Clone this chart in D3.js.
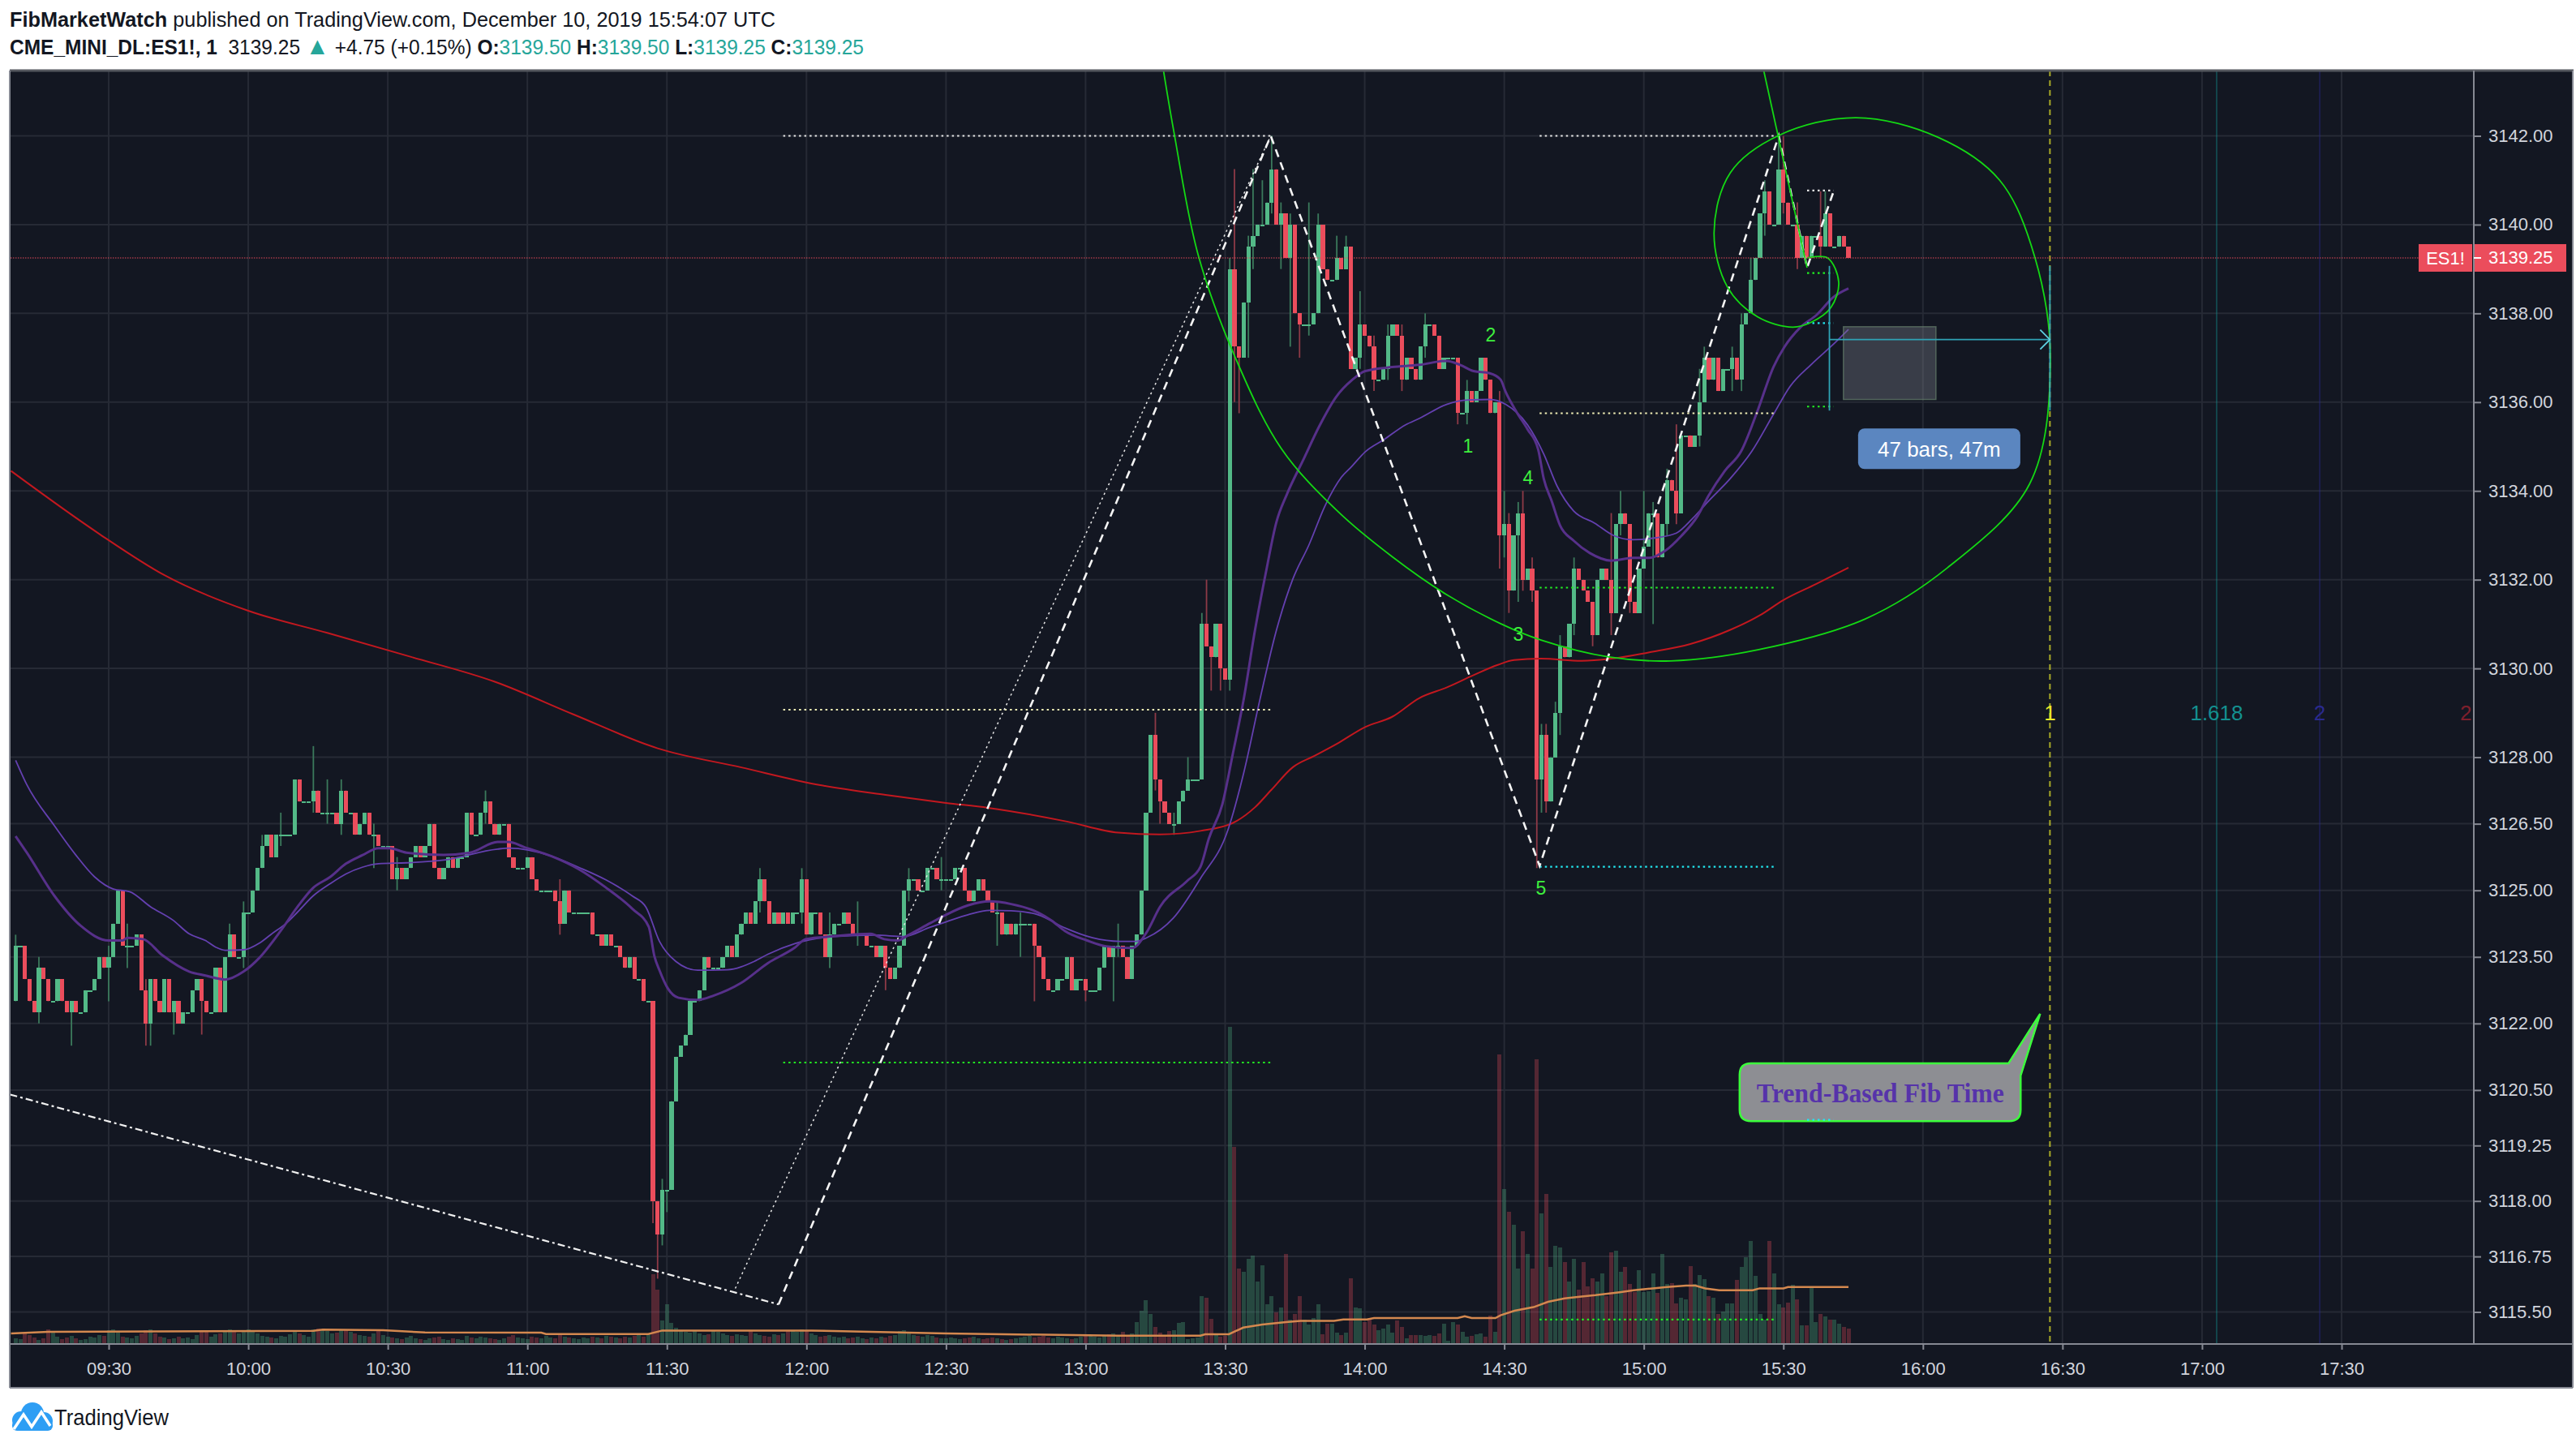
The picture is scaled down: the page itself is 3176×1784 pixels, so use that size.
<!DOCTYPE html>
<html>
<head>
<meta charset="utf-8">
<script src="https://cdn.jsdelivr.net/npm/d3@7"></script>
<style>
  body { margin: 0; background: #fff; }
  svg { display: block; font-family: "Liberation Sans", Arial, sans-serif; }
</style>
</head>
<body>
<svg id="chart" width="3176" height="1784"></svg>
<script>
// ---- data: ES1! 1-minute bars, 10 Dec 2019, first bar at 09:10 ----
const firstOpen = 3122.5;
const closes = [
  3123.75,3123.75,3123,3122.5,3122.25,3123.25,3123,3122.5,3122.5,3123,
  3122.5,3122.25,3122.5,3122.25,3122.25,3122.75,3122.75,3123,3123.5,3123.25,
  3123.5,3124.25,3125,3123.75,3123.75,3123.75,3124,3122.75,3122,3123,
  3122.5,3122.25,3123,3122.25,3122.5,3122,3122.25,3122.25,3122.75,3123,
  3122.5,3122.25,3122.25,3123.25,3122.25,3123.5,3124,3123.5,3123.5,3124.5,
  3124.5,3125,3125.5,3126,3126.25,3125.75,3126.25,3126.25,3126.25,3126.25,
  3127.5,3127,3127,3127,3127.25,3126.75,3126.75,3126.75,3126.75,3126.5,
  3127.25,3126.75,3126.75,3126.25,3126.5,3126.75,3126.25,3126.25,3126,3126,
  3126,3125.25,3125.5,3125.25,3125.5,3125.75,3126,3125.75,3126,3126.5,
  3125.5,3125.25,3125.5,3125.75,3125.5,3125.75,3125.75,3126.75,3126.25,3126.25,
  3126.75,3127,3126.5,3126.25,3126.5,3126.5,3125.75,3125.5,3125.5,3125.5,
  3125.75,3125.25,3125,3125,3125,3125,3124.75,3124.25,3125,3124.5,
  3124.5,3124.5,3124.5,3124.5,3124,3124,3123.75,3124,3123.75,3123.75,
  3123.5,3123.25,3123.5,3123,3123,3122.5,3122.5,3118,3117.25,3118.25,
  3118.25,3120.25,3121.25,3121.5,3121.75,3122.5,3122.5,3122.75,3123.5,3123.25,
  3123.25,3123.25,3123.5,3123.75,3123.5,3124,3124.25,3124.5,3124.25,3124.75,
  3125.25,3124.75,3124.25,3124.5,3124.25,3124.5,3124.25,3124.5,3124.5,3125.25,
  3124,3124.5,3124.5,3124,3123.5,3124,3124.25,3124.25,3124.5,3124.25,
  3124,3124,3124,3123.75,3123.75,3123.5,3123.75,3123.25,3123,3123.25,
  3123.75,3125,3125.25,3125.25,3125,3125,3125.5,3125.5,3125.25,3125.25,
  3125.25,3125.25,3125.5,3125.5,3125,3124.75,3125,3125.25,3125,3124.75,
  3124.5,3124.5,3124,3124.25,3124,3124.25,3124.25,3124.25,3124.25,3123.75,
  3123.5,3123,3122.75,3122.75,3123,3123,3123.5,3122.75,3123,3123,
  3122.75,3122.75,3122.75,3123.25,3123.75,3123.5,3123.75,3123.75,3123.5,3123,
  3123.75,3124,3125,3126.75,3128.5,3127.5,3127,3126.75,3126.5,3126.5,
  3127,3127.25,3127.5,3127.5,3127.5,3131,3130.5,3130.25,3131,3130,
  3129.75,3139,3137.25,3137,3138.25,3139.5,3139.75,3140,3140,3140.5,
  3141.25,3140,3140.25,3139.25,3140,3138,3137.75,3137.75,3137.75,3138,
  3140,3139,3138.75,3138.75,3139.25,3139,3139.5,3136.75,3137,3137.75,
  3137.5,3137.25,3136.5,3136.5,3136.75,3137.5,3137.75,3137.5,3136.5,3137,
  3136.75,3136.5,3137.25,3137.75,3137.75,3137.5,3136.75,3137,3137,3137,
  3135.75,3135.75,3136.25,3136,3136.25,3137,3136.5,3135.75,3136,3133,
  3133.25,3131.75,3133,3133.5,3132,3132.25,3131.75,3127.5,3128.5,3127,
  3128,3129,3130.5,3130.25,3131,3132.25,3132,3131.75,3131.5,3130.75,
  3132,3132.25,3132,3131.25,3133.25,3133.5,3133.25,3131.5,3131.25,3132.25,
  3132.75,3133.5,3133.5,3132.5,3133.25,3134.25,3134,3133.5,3135.25,3135.25,
  3135,3135.25,3136,3137,3136.5,3137,3136.25,3136.75,3136.75,3137,
  3136.5,3137.75,3138,3138.75,3139.25,3140.25,3140.75,3140,3140,3141.25,
  3140.5,3140,3140,3139.25,3139.75,3139.25,3139.75,3139.75,3139.5,3140.25,
  3139.5,3139.5,3139.75,3139.5,3139.25
];
// [bar, high, low] where the wick reaches past the body
const wicks = [
  [0,3124,3122.5],[5,3123.5,3122],[12,3122.5,3121.5],[20,3123.75,3122.5],[24,3124.25,3123.25],
  [28,3123,3121.5],[29,3123,3121.5],[34,3122.5,3121.75],[40,3122.5,3121.75],[46,3124.25,3123.5],
  [49,3124.75,3123.25],[53,3126.25,3125.75],[57,3126.75,3126],[64,3128.25,3126.75],[67,3127.5,3126.5],
  [70,3127.5,3126.25],[77,3126.5,3125.5],[82,3125.75,3125],[101,3127.25,3126.5],[117,3125.25,3124],
  [137,3122.5,3117.5],[138,3118,3116.25],[139,3118.5,3117],[140,3118.25,3117.75],[160,3125.5,3124.5],
  [169,3125.5,3124.25],[175,3124.5,3123.25],[181,3124.75,3123.75],[187,3123.25,3122.75],[192,3125.5,3124.75],
  [199,3125.75,3125],[211,3124.75,3123.75],[216,3124.5,3123.5],[219,3123,3122.5],[230,3123,3122.5],
  [236,3123.75,3122.5],[237,3124.25,3123.5],[245,3129,3127.25],[246,3127.5,3126.5],[249,3126.75,3126.25],
  [252,3128,3127.25],[255,3131.25,3127.5],[256,3132,3130.5],[257,3130.5,3129.5],[259,3131,3129.5],
  [261,3139.25,3129.5],[262,3141.25,3136],[263,3137.25,3135.75],[265,3139.75,3137],[266,3141.25,3139],
  [268,3141,3140],[270,3142,3140.25],[272,3140.5,3139],[274,3140.25,3137.25],[276,3138,3137],
  [278,3140.5,3137.5],[280,3140.25,3138.75],[284,3139.75,3138.75],[286,3139.75,3139],[289,3138.5,3136.75],
  [292,3137.5,3136.25],[295,3137.75,3136.5],[298,3137.75,3136.25],[303,3138,3137],[310,3137,3135.5],
  [312,3136.5,3135.5],[319,3136.25,3132.25],[320,3134,3132.5],[321,3133.5,3131.25],[323,3133.75,3131.5],
  [324,3134,3131.75],[326,3132.5,3131.5],[327,3131.75,3125.5],[328,3128.75,3126.75],[329,3128.75,3126.75],
  [331,3129.25,3128.5],[332,3130.75,3128.5],[335,3132.5,3130.75],[339,3131.5,3130.5],[343,3133.5,3130.75],
  [345,3134,3133],[347,3133.25,3131.25],[350,3134,3132.25],[352,3133.75,3131],[355,3134.5,3133],
  [357,3135.5,3133.25],[362,3136.75,3135],[363,3137.25,3136],[369,3137.25,3136.25],[371,3138,3136.25],
  [373,3139.25,3138],[376,3141,3139.75],[379,3142,3140],[380,3142,3140.25],[383,3140.5,3139],
  [388,3140.75,3139.25],[389,3140.75,3139.5]
];
const volumes = [
  150,125,300,250,175,100,150,425,350,200, 125,175,225,150,100,125,200,175,250,225,
  400,425,350,200,175,150,225,300,400,425, 300,200,175,125,150,200,150,175,125,250,
  400,375,200,275,300,400,425,375,300,400, 425,350,300,225,200,175,150,225,200,275,
  350,300,250,200,425,450,400,375,300,325, 400,425,350,300,250,225,200,300,375,250,
  200,175,150,125,175,225,150,125,100,150, 175,200,125,100,150,125,100,225,175,150,
  200,175,150,125,100,150,200,250,175,150, 125,200,175,150,225,175,150,250,200,175,
  150,125,175,150,200,175,150,225,200,175, 150,200,175,225,250,200,275,2125,1650,700,
  1200,625,475,375,350,325,375,300,250,275, 375,350,300,250,225,275,250,225,375,300,
  250,225,200,275,250,300,375,400,350,425, 400,300,250,200,225,250,200,175,200,150,
  175,200,150,125,175,150,200,175,225,250, 375,400,300,250,225,200,250,225,175,150,
  150,175,150,125,150,175,200,150,125,150, 175,150,125,100,125,150,175,200,225,175,
  200,225,175,150,200,175,150,125,150,200, 225,250,200,175,225,275,300,225,350,225,
  300,650,1000,1325,900,500,325,250,375,400, 625,650,125,150,175,1450,1400,750,250,200,
  225,9750,6050,2300,2200,2600,2700,1900,2400,1200, 1450,950,1100,2750,725,900,1450,725,575,775,
  1200,275,600,600,325,250,325,2000,1100,1075, 650,775,575,400,450,575,325,700,500,150,
  250,250,250,225,250,225,300,600,75,650, 575,350,200,225,275,300,200,850,350,8900,
  4750,4050,3650,2300,3450,2750,2300,8750,4000,4600, 2350,3000,2950,2500,1900,2600,1650,2500,1750,2000,
  1900,2150,1450,2800,2850,2200,2350,1825,1575,2250, 1575,1600,2150,1550,2750,1825,1850,1225,1400,1350,
  2375,1825,2100,1975,1450,1400,900,975,1225,1225, 1950,2350,2650,3150,2075,900,725,3150,2150,1200,
  1100,1250,1800,1350,550,550,1725,650,900,825, 725,725,600,500,450
];
// indicator lines, read as [bar, value]
const volMa = [
  [-1,300],[7,350],[30,360],[64,380],[66,420],[79,400],[88,330],[113,325],[114,280],[136,280],
  [139,390],[171,390],[200,300],[237,230],[254.7,230],[255.7,275],[260.8,275],[263.9,480],[268,575],
  [273.1,650],[276.2,690],[283.4,690],[285.4,730],[290.5,730],[292,775],[310,775],[311.5,830],[313,775],
  [318.1,775],[319.2,860],[322.2,1000],[326.3,1110],[329.4,1275],[333,1380],[336.6,1440],[339.6,1480],
  [344.8,1570],[347.8,1630],[351.9,1690],[355,1730],[359.1,1775],[361.1,1775],[363.2,1690],[366.2,1630],
  [373.4,1630],[374.9,1690],[380,1690],[381,1730],[394,1730]
];
const maSlow = [
  [-1,3134.45],[18,3133.03],[32,3132.1],[50,3131.3],[67,3130.8],[85,3130.26],[103,3129.7],[120,3128.96],
  [138,3128.2],[156,3127.77],[173,3127.37],[187,3127.15],[200,3126.97],[209,3126.86],[226,3126.55],
  [237,3126.3],[246,3126.26],[254.7,3126.34],[261.7,3126.52],[266.4,3126.87],[269.9,3127.26],
  [274.5,3127.77],[279.2,3128.03],[284,3128.3],[290.1,3128.68],[295.9,3128.91],[301.7,3129.33],
  [307.6,3129.57],[313.4,3129.85],[318.6,3130.08],[322.1,3130.19],[327.9,3130.22],[336.6,3130.17],
  [343,3130.22],[351,3130.36],[360,3130.55],[368.6,3130.87],[375,3131.2],[380,3131.54],[387,3131.9],[394,3132.27]
];
const maFast = [
  [0,3126.22],[2.4,3125.85],[8.3,3124.88],[14,3124.2],[20,3123.87],[23,3123.87],[24,3123.93],[27.4,3123.9],
  [31.5,3123.54],[37.3,3123.17],[40.8,3123.08],[45,3122.99],[49,3123.17],[52.4,3123.48],[57,3124.09],
  [60.6,3124.63],[64,3125.06],[67.6,3125.3],[71,3125.6],[74.5,3125.79],[78,3125.95],[80.3,3125.95],
  [84,3125.85],[92,3125.8],[97.7,3125.85],[103.6,3126.09],[106,3126.09],[109.4,3125.97],[115.2,3125.77],
  [121,3125.48],[126.8,3125.07],[132.6,3124.58],[136.1,3124.18],[137.3,3123.52],[138.4,3123.2],
  [140.2,3122.79],[142.5,3122.58],[146.6,3122.53],[150.1,3122.63],[155.9,3122.91],[161.7,3123.36],
  [167.5,3123.71],[169.8,3123.9],[176.2,3123.97],[183.8,3124.02],[186.7,3123.9],[189.6,3123.87],
  [191.9,3123.99],[196.6,3124.26],[200,3124.45],[204.7,3124.66],[209.4,3124.75],[214,3124.69],
  [219.8,3124.5],[222.7,3124.32],[225.6,3124.08],[230.3,3123.87],[234.4,3123.74],[240,3123.7],
  [243.1,3124.05],[246,3124.63],[251.8,3125.21],[254.7,3125.53],[256.5,3126.17],[259.4,3126.94],
  [261.7,3128.1],[264,3129.31],[266.4,3130.85],[268.7,3132.13],[271,3133.29],[273.3,3133.93],
  [276.8,3134.7],[280.3,3135.47],[283.8,3136.11],[287.3,3136.5],[290.1,3136.7],[295.9,3136.79],
  [301.7,3136.84],[307.6,3136.93],[310.5,3136.84],[313.4,3136.7],[316.9,3136.65],[319.2,3136.51],
  [320.3,3136.23],[322.7,3135.77],[325,3135.39],[327.3,3134.93],[328.5,3134.27],[330.2,3133.77],
  [332,3133.22],[334.9,3132.88],[338.4,3132.6],[343,3132.43],[347.7,3132.49],[351.2,3132.49],
  [354.6,3132.65],[358.1,3132.99],[361.6,3133.44],[363.9,3133.89],[367.4,3134.45],[370.9,3134.89],
  [374.4,3135.79],[377.9,3136.8],[380.2,3137.24],[383.7,3137.69],[387.2,3137.97],[390.7,3138.36],[394,3138.56]
];
const maMid = [
  [0,3127.93],[2.4,3127.38],[8.3,3126.46],[12.9,3125.8],[17,3125.3],[21,3125.03],[24.5,3124.97],[29,3124.63],
  [33.8,3124.33],[37.3,3124.02],[40.8,3123.87],[43,3123.72],[45,3123.65],[49,3123.66],[52.4,3123.81],
  [54.8,3124],[58.3,3124.27],[60.6,3124.51],[64,3124.88],[67.6,3125.15],[71,3125.37],[74.5,3125.52],
  [78,3125.6],[84,3125.62],[92,3125.68],[103.6,3125.93],[106,3125.95],[115.2,3125.77],[121,3125.52],
  [126.8,3125.24],[132.6,3124.87],[135.5,3124.62],[138.4,3123.85],[141.9,3123.4],[146.6,3123.2],
  [153,3123.21],[158.8,3123.4],[161.7,3123.56],[167.5,3123.8],[176,3123.96],[185,3123.99],[190.8,3123.96],
  [196.6,3124.17],[200,3124.29],[204.7,3124.45],[209.4,3124.55],[214,3124.54],[219.8,3124.45],
  [225.6,3124.15],[231.5,3123.93],[237.3,3123.85],[240.8,3123.85],[243.1,3123.93],[248.9,3124.38],
  [254.7,3125.27],[260.6,3126.36],[264,3127.65],[267.5,3129.31],[271,3130.85],[274.5,3132],[278,3132.78],
  [281.5,3133.67],[285,3134.31],[287.2,3134.55],[290.1,3134.88],[294.2,3135.16],[298.8,3135.49],
  [301.7,3135.63],[307.6,3135.95],[312.2,3136.05],[316.9,3136.06],[320.3,3135.95],[325,3135.49],
  [328.5,3134.83],[331.4,3134.1],[334.9,3133.55],[339.5,3133.27],[343.6,3132.99],[347.7,3132.9],
  [352.3,3132.94],[357,3133.05],[360.5,3133.38],[363.9,3133.77],[368.6,3134.28],[373.2,3134.89],
  [377.9,3135.73],[381.4,3136.35],[386,3136.85],[390.7,3137.3],[394,3137.64]
];
// drawings, as [bar, price]
const trendLine = [[-1.2,3120.4],[164,3115.67]];
const guideLine = [[154.7,3116.03],[269.8,3142]];
const zigzag = [[164,3115.67],[269.8,3142],[327.6,3125.55],[379,3142],[385.1,3139.03],[390.8,3140.75]];
const fibARange = [165, 269.8];
const fibAPrices = [3142, 3129.07, 3121.12];
const fibBRange = [327.6, 378.6];
const fibBPrices = [3142, 3135.75, 3131.82, 3125.53, 3115.33];
const fibCRange = [385.1, 390.8];
const fibCPrices = [3140.77, 3138.91, 3137.78, 3135.9, 3119.83];
const spiral = [
  [385.1,3139.25],[389.5,3139.25],[391.9,3138.7],[390.2,3138.13],[386,3137.8],[382,3137.69],
  [374.5,3137.92],[368,3138.59],[365.1,3139.82],[368.6,3141.17],[379,3142.01],[395.6,3142.41],
  [413.2,3141.97],[426.5,3141],[434.1,3139.25],[437.4,3136.84],[432.9,3134.15],[415.3,3132.27],
  [397.7,3131.12],[374.5,3130.42],[355.8,3130.17],[342.4,3130.26],[327.9,3130.64],[319.2,3131.01],
  [307.5,3131.67],[296,3132.51],[284.3,3133.53],[272.1,3134.95],[262.2,3137],[254.2,3139.32],
  [248.9,3142.14],[246,3143.96]
];
const spiralRay = [[385.1,3139.03],[375.4,3143.65]];
const waveNames = ["1","2","3","4","5"];
const waveBars = [312.2, 317.1, 323, 325.1, 327.9];
const wavePrices = [3135.02, 3137.52, 3130.78, 3134.3, 3125.05];
const fibTimeStart = 379.3, fibTimeUnit = 58;
const fibTimeLevels = [1, 1.618, 2, 2.618];
const fibTimeLabelPrice = 3129.0;
const measureBars = [389.9, 437.3];
const measurePrices = [3139.07, 3137.41, 3135.81];
const rangeBox = [[392.9, 3137.7], [412.8, 3136.06]];
const measureLabel = {bar: 413.5, price: 3134.95, text: "47 bars, 47m"};
const calloutBox = [[370.6, 3121.1], [431, 3119.8]];
const calloutTip = [435.2, 3122.22];
const calloutText = "Trend-Based Fib Time";
const priceTicks = [3142,3140,3138,3136,3134,3132,3130,3128,3126.5,3125,3123.5,3122,3120.5,3119.25,3118,3116.75,3115.5];
const symbol = "ES1!";

// ---- layout ----
const W = 3176, H = 1784;
const L = 13, T = 87, R = 3050, B = 1657, AX = 1711, RE = 3172;
const up = "#53b987", down = "#eb4d5c";

const t0 = Date.UTC(2019, 11, 10, 9, 10);
const tAt = i => new Date(t0 + i * 60000);
const x = d3.scaleUtc()
  .domain([new Date(Date.UTC(2019, 11, 10, 9, 30)), new Date(Date.UTC(2019, 11, 10, 17, 30))])
  .range([134, 2887]);
const xi = i => x(tAt(i));
const y = d3.scaleLinear().domain([3115.5, 3142]).range([1617.5, 167.5]);
const vy = d3.scaleLinear().domain([0, 10000]).range([1656, 1256]);

const svg = d3.select("#chart");
svg.append("rect").attr("width", W).attr("height", H).attr("fill", "#fff");
svg.append("rect").attr("x", L).attr("y", T).attr("width", RE - L).attr("height", AX - T).attr("fill", "#131722");

svg.append("clipPath").attr("id", "plot")
  .append("rect").attr("x", L).attr("y", T).attr("width", R - L).attr("height", B - T);

// grid
const grid = svg.append("g").attr("stroke", "#262a35").attr("stroke-width", 2);
const timeTicks = x.ticks(d3.utcMinute.every(30));
grid.selectAll("line.v").data(timeTicks).join("line")
  .attr("x1", d => x(d)).attr("x2", d => x(d)).attr("y1", T).attr("y2", B);
grid.selectAll("line.h").data(priceTicks).join("line")
  .attr("x1", L).attr("x2", R).attr("y1", d => y(d)).attr("y2", d => y(d));

const plot = svg.append("g").attr("clip-path", "url(#plot)");

// bars
const wickMap = new Map(wicks.map(w => [w[0], w]));
const bars = closes.map((c, i) => {
  const o = i === 0 ? firstOpen : closes[i - 1];
  const w = wickMap.get(i);
  return {
    i, o, c,
    h: Math.max(o, c, w ? w[1] : -Infinity),
    l: Math.min(o, c, w ? w[2] : Infinity),
    v: volumes[i] || 0
  };
});

// volume
plot.append("g").selectAll("rect").data(bars).join("rect")
  .attr("x", d => xi(d.i) - 2.5).attr("width", 5)
  .attr("y", d => vy(d.v)).attr("height", d => vy(0) - vy(d.v))
  .attr("fill", d => d.c >= d.o ? "rgba(83,185,135,0.3)" : "rgba(235,77,92,0.3)")
  .attr("shape-rendering", "crispEdges");

const lineOf = (yy, curve) => d3.line().x(d => xi(d[0])).y(d => yy(d[1])).curve(curve || d3.curveLinear);

plot.append("path").datum(volMa).attr("d", lineOf(vy))
  .attr("fill", "none").attr("stroke", "#d4884f").attr("stroke-width", 2.5);

// candles
const cg = plot.append("g");
cg.selectAll("line").data(bars).join("line")
  .attr("x1", d => xi(d.i)).attr("x2", d => xi(d.i))
  .attr("y1", d => y(d.h)).attr("y2", d => y(d.l))
  .attr("stroke", d => d.c >= d.o ? "#3b7a5c" : "#8e3a47").attr("stroke-width", 1.8);
cg.selectAll("rect").data(bars).join("rect")
  .attr("x", d => xi(d.i) - 2.6).attr("width", 5.2)
  .attr("y", d => y(Math.max(d.o, d.c)))
  .attr("height", d => Math.max(2, Math.abs(y(d.o) - y(d.c))))
  .attr("fill", d => d.c >= d.o ? up : down)
  .attr("shape-rendering", "crispEdges");

// moving averages
plot.append("path").datum(maSlow).attr("d", lineOf(y, d3.curveMonotoneX))
  .attr("fill", "none").attr("stroke", "#c2181f").attr("stroke-width", 2);
plot.append("path").datum(maMid).attr("d", lineOf(y, d3.curveMonotoneX))
  .attr("fill", "none").attr("stroke", "#6440b0").attr("stroke-width", 1.8);
plot.append("path").datum(maFast).attr("d", lineOf(y, d3.curveMonotoneX))
  .attr("fill", "none").attr("stroke", "#57308a").attr("stroke-width", 3);

// fib level lines
function fibLevels(range, prices, colors) {
  plot.append("g").selectAll("line").data(prices).join("line")
    .attr("x1", xi(range[0])).attr("x2", xi(range[1]))
    .attr("y1", d => y(d)).attr("y2", d => y(d))
    .attr("stroke", (d, k) => colors[k]).attr("stroke-width", 2.2)
    .attr("stroke-dasharray", "2.5,4");
}
fibLevels(fibARange, fibAPrices, ["#e6e6e6", "#f2f0b6", "#22ee22"]);
fibLevels(fibBRange, fibBPrices, ["#e6e6e6", "#f2f0b6", "#22ee22", "#22e6ee", "#22ee22"]);
fibLevels(fibCRange, fibCPrices, ["#e6e6e6", "#22ee22", "#22e6ee", "#22ee22", "#22e6ee"]);

// white dashed drawings
plot.append("path").datum(trendLine).attr("d", lineOf(y))
  .attr("fill", "none").attr("stroke", "#f0f0f0").attr("stroke-width", 2.2)
  .attr("stroke-dasharray", "9,4,3,4");
plot.append("path").datum(guideLine).attr("d", lineOf(y))
  .attr("fill", "none").attr("stroke", "#e8e8e8").attr("stroke-width", 1.5)
  .attr("stroke-dasharray", "2.5,4");
plot.append("path").datum(zigzag).attr("d", lineOf(y))
  .attr("fill", "none").attr("stroke", "#f4f4f4").attr("stroke-width", 2.6)
  .attr("stroke-dasharray", "10,7");

// fib spiral
plot.append("path").datum(spiral).attr("d", lineOf(y, d3.curveCatmullRom))
  .attr("fill", "none").attr("stroke", "#14d814").attr("stroke-width", 1.8);
plot.append("path").datum(spiralRay).attr("d", lineOf(y))
  .attr("fill", "none").attr("stroke", "#14d814").attr("stroke-width", 1.8);

// wave numbers
plot.append("g").selectAll("text").data(waveNames).join("text")
  .attr("x", (d, k) => xi(waveBars[k])).attr("y", (d, k) => y(wavePrices[k]))
  .attr("dy", "0.36em").attr("text-anchor", "middle")
  .attr("font-size", 23).attr("fill", "#3ef03e").text(d => d);

// trend-based fib time
const ftColors = ["#e8e82a", "#139090", "#2a2a8e", "#7e1f2c"];
const ftLines = plot.append("g");
fibTimeLevels.forEach((lv, k) => {
  const bx = xi(fibTimeStart + lv * fibTimeUnit);
  ftLines.append("line").attr("x1", bx).attr("x2", bx).attr("y1", T).attr("y2", B)
    .attr("stroke", ftColors[k]).attr("stroke-opacity", k === 0 ? 0.7 : 0.5)
    .attr("stroke-width", k === 0 ? 2 : 1.5)
    .attr("stroke-dasharray", k === 0 ? "7,5" : null);
  ftLines.append("text").attr("x", bx).attr("y", y(fibTimeLabelPrice)).attr("dy", "0.36em")
    .attr("text-anchor", "middle").attr("font-size", 26).attr("fill", ftColors[k])
    .text(String(lv));
});

// measurement
const mg = plot.append("g").attr("stroke", "#2fa3b5").attr("stroke-width", 1.8).attr("fill", "none");
mg.append("rect")
  .attr("x", xi(rangeBox[0][0])).attr("y", y(rangeBox[0][1]))
  .attr("width", xi(rangeBox[1][0]) - xi(rangeBox[0][0]))
  .attr("height", y(rangeBox[1][1]) - y(rangeBox[0][1]))
  .attr("fill", "rgba(120,123,134,0.38)").attr("stroke", "rgba(110,140,115,0.6)").attr("stroke-width", 1.5);
measureBars.forEach(b => {
  mg.append("line").attr("x1", xi(b)).attr("x2", xi(b))
    .attr("y1", y(measurePrices[0])).attr("y2", y(measurePrices[2]));
});
mg.append("line").attr("x1", xi(measureBars[0])).attr("x2", xi(measureBars[1]))
  .attr("y1", y(measurePrices[1])).attr("y2", y(measurePrices[1]));
const ax = xi(measureBars[1]), ay = y(measurePrices[1]);
mg.append("path").attr("d", `M${ax - 12},${ay - 12}L${ax},${ay}L${ax - 12},${ay + 12}`).attr("stroke", "#5fd0e0");
const lbx = xi(measureLabel.bar), lby = y(measureLabel.price);
plot.append("rect").attr("x", lbx - 100).attr("y", lby - 25).attr("width", 200).attr("height", 50)
  .attr("rx", 8).attr("fill", "#5b86c0");
plot.append("text").attr("x", lbx).attr("y", lby).attr("dy", "0.36em").attr("text-anchor", "middle")
  .attr("font-size", 26).attr("fill", "#fff").text(measureLabel.text);

// callout
{
  const x0 = xi(calloutBox[0][0]), x1 = xi(calloutBox[1][0]);
  const y0 = y(calloutBox[0][1]), y1 = y(calloutBox[1][1]);
  const tx = xi(calloutTip[0]), ty = y(calloutTip[1]);
  const r = 14;
  const p = `M${x0 + r},${y0} L${x1 - 15},${y0} L${tx},${ty} L${x1},${y0 + 15} L${x1},${y1 - r}` +
    ` Q${x1},${y1} ${x1 - r},${y1} L${x0 + r},${y1} Q${x0},${y1} ${x0},${y1 - r}` +
    ` L${x0},${y0 + r} Q${x0},${y0} ${x0 + r},${y0} Z`;
  plot.append("path").attr("d", p).attr("fill", "#8d8e93").attr("stroke", "#3cff3c").attr("stroke-width", 2.5);
  plot.append("text").attr("x", x0 + 21).attr("y", (y0 + y1) / 2 + 12)
    .attr("font-family", "'Liberation Serif', 'Times New Roman', serif").attr("font-weight", "bold")
    .attr("font-size", 33).attr("fill", "#5633aa")
    .attr("textLength", 305).attr("lengthAdjust", "spacingAndGlyphs").text(calloutText);
}
// small fib level drawn over the callout
fibLevels(fibCRange, [fibCPrices[4]], ["#22e6ee"]);

// last price line
const last = closes[closes.length - 1];
plot.append("line").attr("x1", L).attr("x2", R).attr("y1", y(last)).attr("y2", y(last))
  .attr("stroke", down).attr("stroke-opacity", 0.65).attr("stroke-width", 1.5).attr("stroke-dasharray", "1.5,1.5");

// frame
const frame = svg.append("g").attr("stroke", "#868993").attr("stroke-width", 2);
frame.append("line").attr("x1", L - 1).attr("x2", RE + 1).attr("y1", T).attr("y2", T).attr("stroke", "#55585f").attr("stroke-width", 3);
frame.append("line").attr("x1", L - 1).attr("x2", L - 1).attr("y1", T).attr("y2", AX);
frame.append("line").attr("x1", RE).attr("x2", RE).attr("y1", T).attr("y2", AX);
frame.append("line").attr("x1", L - 1).attr("x2", RE).attr("y1", B).attr("y2", B);
frame.append("line").attr("x1", L - 1).attr("x2", RE).attr("y1", AX).attr("y2", AX);
frame.append("line").attr("x1", R).attr("x2", R).attr("y1", T).attr("y2", B);

// price axis
const yAxis = svg.append("g").attr("transform", `translate(${R},0)`)
  .call(d3.axisRight(y).tickValues(priceTicks).tickFormat(d3.format(".2f")).tickSize(9).tickPadding(9));
yAxis.select(".domain").remove();
yAxis.selectAll("line").attr("stroke", "#868993").attr("stroke-width", 2);
yAxis.selectAll("text").attr("font-size", 22).attr("fill", "#d1d4dc").attr("font-family", "'Liberation Sans', Arial, sans-serif");

// time axis
const xAxis = svg.append("g").attr("transform", `translate(0,${B})`)
  .call(d3.axisBottom(x).ticks(d3.utcMinute.every(30)).tickFormat(d3.utcFormat("%H:%M")).tickSize(7).tickPadding(15));
xAxis.select(".domain").remove();
xAxis.selectAll("line").attr("stroke", "#868993").attr("stroke-width", 2);
xAxis.selectAll("text").attr("font-size", 22).attr("fill", "#d1d4dc").attr("font-family", "'Liberation Sans', Arial, sans-serif");

// last price labels
const ly = y(last);
svg.append("rect").attr("x", 2982).attr("y", ly - 17).attr("width", 66).attr("height", 34).attr("fill", down);
svg.append("text").attr("x", 3015).attr("y", ly).attr("dy", "0.36em").attr("text-anchor", "middle")
  .attr("font-size", 22).attr("fill", "#fff").text(symbol);
svg.append("rect").attr("x", R + 1).attr("y", ly - 17).attr("width", 113).attr("height", 34).attr("fill", down);
svg.append("line").attr("x1", R).attr("x2", R + 9).attr("y1", ly).attr("y2", ly).attr("stroke", "#fff").attr("stroke-width", 2);
svg.append("text").attr("x", R + 18).attr("y", ly).attr("dy", "0.32em")
  .attr("font-size", 22).attr("fill", "#fff").text(d3.format(".2f")(last));

// header
const h1 = svg.append("text").attr("x", 12).attr("y", 33).attr("font-size", 25).attr("fill", "#131722")
  .attr("textLength", 944).attr("lengthAdjust", "spacingAndGlyphs").style("white-space", "pre");
h1.append("tspan").attr("font-weight", "bold").text("FibMarketWatch");
h1.append("tspan").text(" published on TradingView.com, December 10, 2019 15:54:07 UTC");

const teal = "#26a69a";
const h2parts = [
  ["CME_MINI_DL:ES1!, 1", true, null, null], ["  3139.25 ", false, null, null], ["\u25B2", false, teal, 30],
  [" +4.75 (+0.15%) ", false, null, null], ["O:", true, null, null], ["3139.50", false, teal, null],
  [" H:", true, null, null], ["3139.50", false, teal, null], [" L:", true, null, null], ["3139.25", false, teal, null],
  [" C:", true, null, null], ["3139.25", false, teal, null]
];
const h2 = svg.append("text").attr("x", 12).attr("y", 67).attr("font-size", 25).attr("fill", "#131722")
  .attr("textLength", 1053).attr("lengthAdjust", "spacingAndGlyphs").style("white-space", "pre");
h2parts.forEach(p => {
  const t = h2.append("tspan").text(p[0]);
  if (p[1]) t.attr("font-weight", "bold");
  if (p[2]) t.attr("fill", p[2]);
  if (p[3]) t.attr("font-size", p[3]);
});

// TradingView logo
const logo = svg.append("g");
logo.append("circle").attr("cx", 26).attr("cy", 1751).attr("r", 11).attr("fill", "#2e9ef4");
logo.append("circle").attr("cx", 40).attr("cy", 1743).attr("r", 14).attr("fill", "#2e9ef4");
logo.append("circle").attr("cx", 54).attr("cy", 1752).attr("r", 11).attr("fill", "#2e9ef4");
logo.append("rect").attr("x", 15).attr("y", 1751).attr("width", 50).attr("height", 13).attr("rx", 6).attr("fill", "#2e9ef4");
logo.append("path").attr("d", "M17,1762 L29,1744 L39,1759 L51,1741 L62,1758")
  .attr("fill", "none").attr("stroke", "#fff").attr("stroke-width", 3.5);
svg.append("text").attr("x", 67).attr("y", 1757).attr("font-size", 28).attr("fill", "#131722")
  .attr("textLength", 141).attr("lengthAdjust", "spacingAndGlyphs").text("TradingView");
</script>
</body>
</html>
